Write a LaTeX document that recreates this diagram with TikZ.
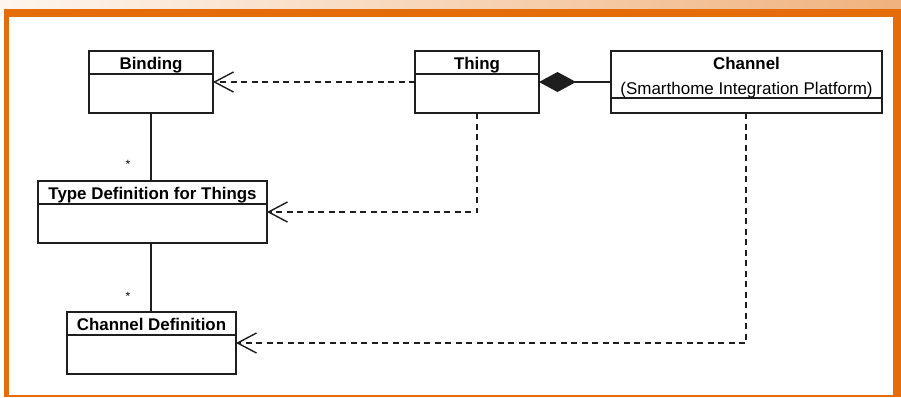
\documentclass[tikz,border=0pt]{standalone}
\usepackage{fontspec}
\setmainfont{Liberation Sans}
\usetikzlibrary{arrows.meta}
\definecolor{frameorange}{RGB}{228,108,10}
\definecolor{bandleft}{RGB}{253,246,239}
\definecolor{bandright}{RGB}{240,178,126}
\definecolor{ink}{RGB}{30,30,30}
\tikzset{
  umlbox/.style={draw=ink, line width=1.7pt, fill=white, inner sep=0pt, outer sep=0pt, anchor=north west},
  divider/.style={draw=ink, line width=1.5pt},
  titletext/.style={font=\bfseries\fontsize{16.9}{19}\selectfont, inner sep=0pt, anchor=base},
  subtext/.style={font=\fontsize{17}{19}\selectfont, inner sep=0pt, anchor=base},
  multtext/.style={font=\fontsize{12}{14}\selectfont, inner sep=0pt},
  assoc/.style={draw=ink, line width=1.5pt},
  dep/.style={draw=ink, line width=1.4pt, dash pattern=on 6pt off 4.5pt,
    -{Straight Barb[length=19pt, width=20pt, line width=1.4pt]}},
  comp/.style={draw=ink, line width=1.5pt,
    {Diamond[length=37pt, width=20pt, fill=ink]}-}
}
\begin{document}
\begin{tikzpicture}[x=1pt, y=-1pt]
  \useasboundingbox (0,0) rectangle (901,397);
  % page background, header band and orange frame
  \fill[white] (0,0) rectangle (901,397);
  \shade[left color=bandleft, right color=bandright] (0,0) rectangle (901,9);
  \fill[frameorange] (4,9) rectangle (901,397);
  \fill[white] (9,17) rectangle (893,395);

  % classes
  \node[umlbox, minimum width=124pt, minimum height=62pt] (binding) at (89,51) {};
  \node[umlbox, minimum width=124pt, minimum height=62pt] (thing) at (415,51) {};
  \node[umlbox, minimum width=271pt, minimum height=62pt] (channel) at (611,51) {};
  \node[umlbox, minimum width=229pt, minimum height=62pt] (typedef) at (38,181) {};
  \node[umlbox, minimum width=169pt, minimum height=62pt] (chdef) at (67,312) {};

  % compartment dividers
  \draw[divider] ([yshift=-23pt]binding.north west) -- ([yshift=-23pt]binding.north east);
  \draw[divider] ([yshift=-23pt]thing.north west) -- ([yshift=-23pt]thing.north east);
  \draw[divider] ([yshift=-47pt]channel.north west) -- ([yshift=-47pt]channel.north east);
  \draw[divider] ([yshift=-23pt]typedef.north west) -- ([yshift=-23pt]typedef.north east);
  \draw[divider] ([yshift=-23pt]chdef.north west) -- ([yshift=-23pt]chdef.north east);

  % class names
  \node[titletext] (bindingname) at ([yshift=-18pt]binding.north) {Binding};
  \node[titletext] (thingname) at ([yshift=-18pt]thing.north) {Thing};
  \node[titletext] (channelname) at ([yshift=-18pt]channel.north) {Channel};
  \node[subtext] (channelsub) at ([yshift=-43pt]channel.north) {(Smarthome Integration Platform)};
  \node[titletext] (typedefname) at ([yshift=-18.5pt]typedef.north) {Type Definition for Things};
  \node[titletext] (chdefname) at ([yshift=-18.5pt]chdef.north) {Channel Definition};

  % associations with multiplicities (kept on one vertical)
  \draw[assoc] (binding.south) -- (binding.south |- typedef.north);
  \draw[assoc] (binding.south |- typedef.south) -- (binding.south |- chdef.north);
  \node[multtext] (mult1) at (128,164) {*};
  \node[multtext] (mult2) at (128,296) {*};

  % composition
  \draw[comp] (thing.east) -- (channel.west);

  % dependencies
  \draw[dep] (thing.west) -- (binding.east);
  \draw[dep] (thing.south) |- (typedef.east);
  \draw[dep] ([xshift=-0.5pt]channel.south) |- (chdef.east);
\end{tikzpicture}
\end{document}
